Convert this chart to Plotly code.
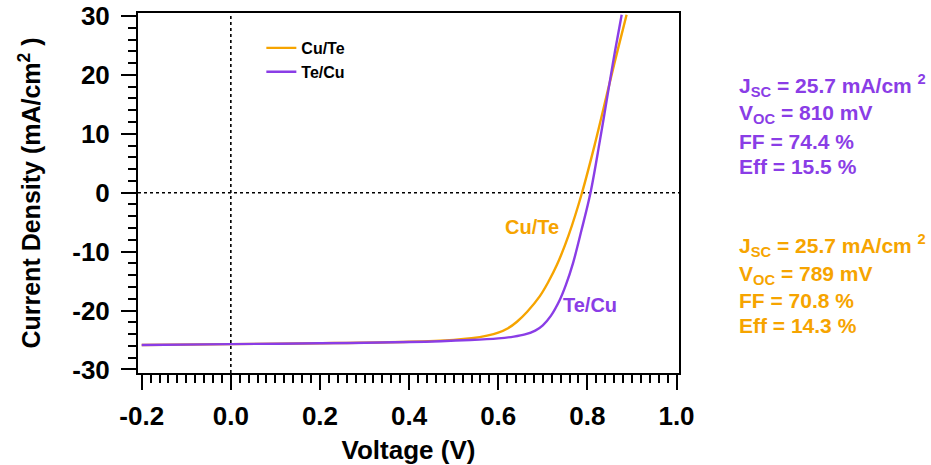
import plotly.graph_objects as go

# J-V sweep data (voltage in V, current density in mA/cm^2)
v_cu_te = [-0.2, 0.0, 0.2, 0.4, 0.5, 0.54, 0.575, 0.6, 0.622, 0.642, 0.665, 0.693, 0.712, 0.732,
           0.758, 0.788, 0.818, 0.848, 0.868, 0.888]
j_cu_te = [-25.84, -25.7, -25.55, -25.3, -24.98, -24.7, -24.25, -23.75, -23.0, -21.9, -20.2, -17.6, -15.2, -12.2,
           -7.2, 0.0, 8.6, 18.0, 24.2, 30.2]

v_te_cu = [-0.2, 0.0, 0.2, 0.4, 0.537, 0.6, 0.635, 0.66, 0.683, 0.700, 0.718, 0.738, 0.752, 0.768,
           0.787, 0.807, 0.828, 0.848, 0.862, 0.877]
j_te_cu = [-25.84, -25.7, -25.55, -25.35, -25.0, -24.72, -24.42, -24.05, -23.4, -22.5, -20.9, -18.2, -15.6, -11.9,
           -6.3, 0.0, 8.8, 17.8, 24.0, 30.2]

x_ticks = [-0.2, 0.0, 0.2, 0.4, 0.6, 0.8, 1.0]
x_tick_labels = ["-0.2", "0.0", "0.2", "0.4", "0.6", "0.8", "1.0"]
x_mid_ticks = [-0.1, 0.1, 0.3, 0.5, 0.7, 0.9]
y_ticks = [-30, -20, -10, 0, 10, 20, 30]
y_tick_labels = ["-30", "-20", "-10", "0", "10", "20", "30"]

te_cu_stats = ["J<sub>SC</sub> = 25.7 mA/cm <sup>2</sup>", "V<sub>OC</sub> = 810 mV", "FF = 74.4 %", "Eff = 15.5 %"]
cu_te_stats = ["J<sub>SC</sub> = 25.7 mA/cm <sup>2</sup>", "V<sub>OC</sub> = 789 mV", "FF = 70.8 %", "Eff = 14.3 %"]

ORANGE = "#F6A400"
PURPLE = "#8A3DE6"
FONT = "Liberation Sans"

x_range = [-0.2083, 1.0056]
y_range = [-30.6, 30.5]

fig = go.Figure()
fig.add_trace(go.Scatter(x=v_cu_te, y=j_cu_te, mode="lines", name="Cu/Te",
                         line=dict(color=ORANGE, width=2.4, shape="spline", smoothing=1.0)))
fig.add_trace(go.Scatter(x=v_te_cu, y=j_te_cu, mode="lines", name="Te/Cu",
                         line=dict(color=PURPLE, width=2.4, shape="spline", smoothing=1.0)))

# dotted zero lines
fig.add_shape(type="line", xref="x", yref="y domain", x0=0, x1=0, y0=0, y1=1,
              line=dict(color="black", width=1.6, dash="dot"), layer="below")
fig.add_shape(type="line", xref="x domain", yref="y", x0=0, x1=1, y0=0, y1=0,
              line=dict(color="black", width=1.6, dash="dot"), layer="below")

tick_font = dict(family=FONT, size=26, color="black", weight="bold")

fig.update_layout(
    width=931, height=465,
    margin=dict(l=138, r=252, t=13, b=92, autoexpand=False),
    plot_bgcolor="white", paper_bgcolor="white",
    showlegend=True,
    legend=dict(x=0.228, y=0.95, xanchor="left", yanchor="top",
                font=dict(family=FONT, size=16, color="black", weight="bold"),
                bgcolor="rgba(0,0,0,0)", tracegroupgap=0, itemwidth=30),
    xaxis=dict(range=x_range, tickvals=x_ticks, ticktext=x_tick_labels, automargin=False,
               ticks="outside", ticklen=15, tickwidth=2, tickcolor="black",
               showline=True, linewidth=2, linecolor="black", mirror=True,
               showgrid=False, zeroline=False, tickfont=tick_font, ticklabelstandoff=4,
               minor=dict(dtick=0.02, tick0=0, ticks="outside", ticklen=8, tickwidth=2,
                          tickcolor="black", showgrid=False),
               title=dict(text="Voltage (V)", standoff=12,
                          font=dict(family=FONT, size=26, color="black", weight="bold"))),
    xaxis2=dict(range=x_range, overlaying="x", anchor="y", side="bottom", automargin=False,
                tickvals=x_mid_ticks, ticks="outside", ticklen=11, tickwidth=2, tickcolor="black",
                showticklabels=False, showline=False, showgrid=False, zeroline=False),
    yaxis=dict(range=y_range, tickvals=y_ticks, ticktext=y_tick_labels, automargin=False,
               ticks="outside", ticklen=15, tickwidth=2, tickcolor="black",
               showline=True, linewidth=2, linecolor="black", mirror=True,
               showgrid=False, zeroline=False, tickfont=tick_font, ticklabelstandoff=6,
               minor=dict(dtick=2, tick0=0, ticks="outside", ticklen=8, tickwidth=2,
                          tickcolor="black", showgrid=False),
               title=dict(text="Current Density (mA/cm<sup>2</sup> )", standoff=24,
                          font=dict(family=FONT, size=25, color="black", weight="bold"))),
)

# curve labels
fig.add_annotation(x=0.676, y=-5.83, xref="x", yref="y", text="Cu/Te", showarrow=False,
                   font=dict(family=FONT, size=20, color=ORANGE, weight="bold"))
fig.add_annotation(x=0.807, y=-19.06, xref="x", yref="y", text="Te/Cu", showarrow=False,
                   font=dict(family=FONT, size=20, color=PURPLE, weight="bold"))

# device parameters beside the plot
stat_x = (737 - 138) / 541
te_cu_rows = [86, 114, 141.5, 166]
cu_te_rows = [246, 275, 300, 325]
for text, py in zip(te_cu_stats, te_cu_rows):
    fig.add_annotation(x=stat_x, y=(373 - py) / 360, xref="paper", yref="paper", text=text,
                       showarrow=False, xanchor="left", yanchor="middle",
                       font=dict(family=FONT, size=21, color=PURPLE, weight="bold"))
for text, py in zip(cu_te_stats, cu_te_rows):
    fig.add_annotation(x=stat_x, y=(373 - py) / 360, xref="paper", yref="paper", text=text,
                       showarrow=False, xanchor="left", yanchor="middle",
                       font=dict(family=FONT, size=21, color=ORANGE, weight="bold"))

fig.write_html("out.html")
